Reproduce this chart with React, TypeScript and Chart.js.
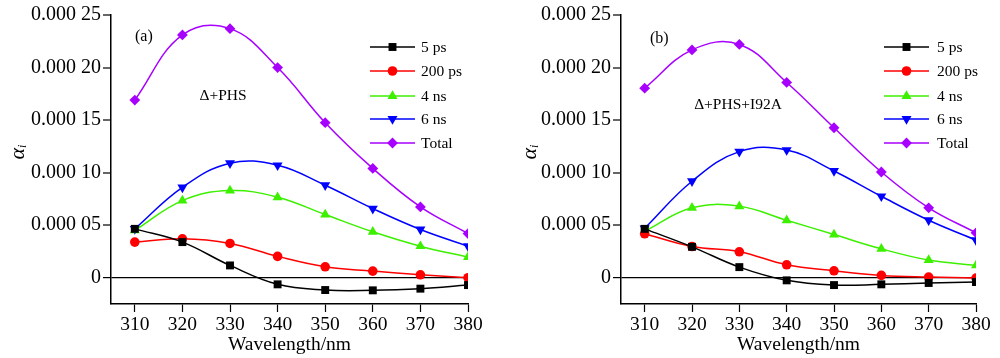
import React, { useEffect, useRef } from "react";
import { Chart, registerables } from "chart.js";

Chart.register(...registerables);

// ---------- data ----------
const wavelengths = [310, 320, 330, 340, 350, 360, 370, 380];
const xTickValues = [310, 320, 330, 340, 350, 360, 370, 380];
const yTickValues = [0, 0.00005, 0.0001, 0.00015, 0.0002, 0.00025];
const yTickLabels = ["0", "0.000 05", "0.000 10", "0.000 15", "0.000 20", "0.000 25"];
const seriesNames = ["5 ps", "200 ps", "4 ns", "6 ns", "Total"];

// panel (a)  Δ+PHS
const a5ps = [0.0000465, 0.0000339, 0.0000117, -0.0000063, -0.0000117, -0.000012, -0.0000104, -0.000007];
const a200ps = [0.0000339, 0.000037, 0.0000326, 0.0000203, 0.0000104, 0.0000063, 0.0000028, 0];
const a4ns = [0.000045, 0.0000734, 0.0000829, 0.0000766, 0.0000601, 0.0000437, 0.00003, 0.0000196];
const a6ns = [0.0000465, 0.000086, 0.000109, 0.000107, 0.000088, 0.0000658, 0.0000459, 0.00003];
const aTotal = [0.000169, 0.000231, 0.000237, 0.0002, 0.0001475, 0.000104, 0.0000674, 0.000042];

// panel (b)  Δ+PHS+I92A
const b5ps = [0.0000465, 0.0000294, 0.0000101, -0.0000025, -0.000007, -0.0000063, -0.000005, -0.0000041];
const b200ps = [0.0000418, 0.0000297, 0.0000247, 0.0000123, 0.0000066, 0.0000022, 0.0000006, -0.0000003];
const b4ns = [0.0000443, 0.0000665, 0.000068, 0.0000547, 0.0000411, 0.0000275, 0.0000168, 0.0000117];
const b6ns = [0.000047, 0.0000918, 0.00012, 0.0001215, 0.0001016, 0.0000775, 0.0000547, 0.0000358];
const bTotal = [0.0001804, 0.0002168, 0.000222, 0.0001858, 0.0001427, 0.0001006, 0.0000665, 0.0000427];

// ---------- styles ----------
const colors = ["#000000", "#ff0000", "#3cf000", "#0000ff", "#a800ff"];
const pointStyles = ["rect", "circle", "triangle", "triangle", "rectRot"];
const pointRotations = [0, 0, 0, 180, 0];
const pointRadii = [5.6, 4.8, 5.8, 5.8, 5.4];
const SERIF = "'Liberation Serif', 'Times New Roman', serif";

type PanelProps = {
  left: number;
  series: number[][];
  tag: string;
  label: string;
  geo: {
    axisLeft: number;
    plotRight: number;
    legendLineX: number;
    legendTextX: number;
    tagX: number;
    tagY: number;
    labelCx: number;
    labelY: number;
    yTitleX: number;
  };
};

function drawMarker(ctx: CanvasRenderingContext2D, style: string, rot: number, x: number, y: number, r: number) {
  ctx.beginPath();
  if (style === "rect") {
    const s = Math.SQRT1_2 * r;
    ctx.rect(x - s, y - s, 2 * s, 2 * s);
  } else if (style === "circle") {
    ctx.arc(x, y, r, 0, Math.PI * 2);
  } else if (style === "triangle") {
    const dir = rot === 180 ? -1 : 1;
    ctx.moveTo(x, y - dir * r);
    ctx.lineTo(x - r * 0.866, y + dir * r * 0.5);
    ctx.lineTo(x + r * 0.866, y + dir * r * 0.5);
    ctx.closePath();
  } else {
    ctx.moveTo(x - r, y);
    ctx.lineTo(x, y - r);
    ctx.lineTo(x + r, y);
    ctx.lineTo(x, y + r);
    ctx.closePath();
  }
  ctx.fill();
}

function Panel({ left, series, tag, label, geo }: PanelProps) {
  const ref = useRef<HTMLCanvasElement | null>(null);

  useEffect(() => {
    const canvas = ref.current;
    if (!canvas) return;

    const overlay = {
      id: "overlay",
      afterDraw(chart: any) {
        const ctx: CanvasRenderingContext2D = chart.ctx;
        const area = chart.chartArea;
        ctx.save();
        ctx.fillStyle = "#000";
        // legend
        const rowY = [47, 71, 96, 119, 143];
        seriesNames.forEach((name, i) => {
          const y = rowY[i];
          ctx.strokeStyle = colors[i];
          ctx.lineWidth = 1.5;
          ctx.beginPath();
          ctx.moveTo(geo.legendLineX, y);
          ctx.lineTo(geo.legendLineX + 45, y);
          ctx.stroke();
          ctx.fillStyle = colors[i];
          drawMarker(ctx, pointStyles[i], pointRotations[i], geo.legendLineX + 22.5, y, pointRadii[i]);
          ctx.fillStyle = "#000";
          ctx.font = `15.5px ${SERIF}`;
          ctx.textAlign = "left";
          ctx.textBaseline = "middle";
          ctx.fillText(name, geo.legendTextX, y + 1);
        });
        // tag and label
        ctx.font = `16px ${SERIF}`;
        ctx.textAlign = "left";
        ctx.textBaseline = "middle";
        ctx.fillText(tag, geo.tagX, geo.tagY);
        ctx.font = `15.5px ${SERIF}`;
        ctx.textAlign = "center";
        ctx.fillText(label, geo.labelCx, geo.labelY);
        // x title
        ctx.font = `19.5px ${SERIF}`;
        ctx.textAlign = "center";
        ctx.textBaseline = "middle";
        ctx.fillText("Wavelength/nm", (area.left + area.right) / 2, 345);
        // y title alpha_i
        ctx.translate(geo.yTitleX, 152);
        ctx.rotate(-Math.PI / 2);
        ctx.font = `italic 22px ${SERIF}`;
        const wA = ctx.measureText("α").width;
        ctx.font = `italic 12px ${SERIF}`;
        const wI = ctx.measureText("i").width;
        const total = wA + wI;
        ctx.font = `italic 22px ${SERIF}`;
        ctx.textAlign = "left";
        ctx.textBaseline = "middle";
        ctx.fillText("α", -total / 2, 0);
        ctx.font = `italic 12px ${SERIF}`;
        ctx.fillText("i", -total / 2 + wA, 5);
        ctx.restore();
      },
    };

    const chart = new Chart(canvas, {
      type: "line",
      data: {
        datasets: series.map((vals, i) => ({
          label: seriesNames[i],
          data: wavelengths.map((x, j) => ({ x, y: vals[j] })),
          borderColor: colors[i],
          backgroundColor: colors[i],
          borderWidth: 1.5,
          pointStyle: pointStyles[i] as any,
          rotation: pointRotations[i],
          pointRadius: pointRadii[i],
          pointBorderWidth: 0,
          pointBackgroundColor: colors[i],
          tension: 0.4,
          fill: false,
        })),
      },
      options: {
        animation: false,
        responsive: false,
        layout: { padding: { left: 0, right: 500 - geo.plotRight, top: 15, bottom: 0 } },
        plugins: { legend: { display: false }, tooltip: { enabled: false } },
        scales: {
          x: {
            type: "linear",
            min: 305,
            max: 380,
            afterBuildTicks: (s: any) => {
              s.ticks = xTickValues.map((v) => ({ value: v }));
            },
            afterFit: (s: any) => {
              s.height = 54;
            },
            ticks: {
              font: { family: SERIF, size: 19.5 },
              color: "#000",
              padding: 1,
              maxRotation: 0,
              autoSkip: false,
              callback: (v: any) => String(v),
            },
            grid: { drawOnChartArea: false, tickLength: 8, tickColor: "#000", tickWidth: 1.2 },
            border: { display: true, color: "#000", width: 1.5 },
          },
          y: {
            type: "linear",
            min: -0.000025,
            max: 0.00025,
            afterBuildTicks: (s: any) => {
              s.ticks = yTickValues.map((v) => ({ value: v }));
            },
            afterFit: (s: any) => {
              s.width = geo.axisLeft;
            },
            ticks: {
              font: { family: SERIF, size: 20 },
              color: "#000",
              padding: 2,
              autoSkip: false,
              callback: (_v: any, idx: number) => yTickLabels[idx],
            },
            grid: {
              drawOnChartArea: true,
              tickLength: 8,
              tickColor: "#000",
              tickWidth: 1.2,
              lineWidth: (c: any) => (c.tick && c.tick.value === 0 ? 1.2 : 0),
              color: (c: any) => (c.tick && c.tick.value === 0 ? "#000" : "rgba(0,0,0,0)"),
            },
            border: { display: true, color: "#000", width: 1.5 },
          },
        },
      },
      plugins: [overlay],
    } as any);

    return () => chart.destroy();
  }, []);

  return (
    <canvas
      ref={ref}
      width={500}
      height={358}
      style={{ position: "absolute", left, top: 0, width: 500, height: 358 }}
    />
  );
}

export default function App() {
  return (
    <div style={{ position: "fixed", left: 0, top: 0, width: 1000, height: 358, background: "#fff" }}>
      <Panel
        left={0}
        series={[a5ps, a200ps, a4ns, a6ns, aTotal]}
        tag="(a)"
        label="Δ+PHS"
        geo={{
          axisLeft: 111,
          plotRight: 468,
          legendLineX: 370,
          legendTextX: 421,
          tagX: 135,
          tagY: 37,
          labelCx: 223,
          labelY: 96,
          yTitleX: 18,
        }}
      />
      <Panel
        left={500}
        series={[b5ps, b200ps, b4ns, b6ns, bTotal]}
        tag="(b)"
        label="Δ+PHS+I92A"
        geo={{
          axisLeft: 121,
          plotRight: 476,
          legendLineX: 384,
          legendTextX: 437,
          tagX: 150,
          tagY: 39,
          labelCx: 238,
          labelY: 105,
          yTitleX: 30,
        }}
      />
    </div>
  );
}
